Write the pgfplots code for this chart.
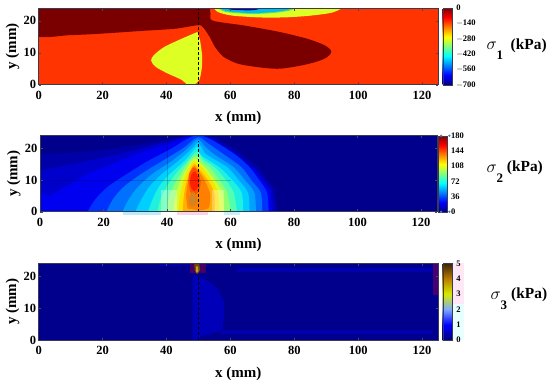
\documentclass[border=0pt]{standalone}
\usepackage{fontspec}
\setmainfont{Liberation Serif}
\usepackage{pgfplots}
\pgfplotsset{compat=1.18}
\definecolor{framec}{HTML}{3A3A50}
\pgfplotsset{
 common/.style={
  scale only axis, xmin=0, xmax=125, ymin=0, ymax=24,
  axis on top, clip=true,
  axis line style={framec, line width=0.6pt},
  xtick={0,20,40,60,80,100,120}, ytick={0,10,20},
  tick align=inside, major tick length=2.5pt,
  tick style={black!70, line width=0.4pt},
  /pgf/number format/assume math mode=true,
  tick label style={font=\bfseries\fontsize{12.5}{13}\selectfont},
  xlabel={\bfseries\fontsize{15}{15}\selectfont x (mm)},
  ylabel={\bfseries\fontsize{15}{15}\selectfont y (mm)},
  xlabel style={yshift=-5pt}, ylabel style={yshift=-2.5pt},
  xticklabel style={yshift=-3pt},
  yticklabel style={xshift=1pt},
  colorbar right,
 },
 extra/.style={scale only axis, xmin=0, xmax=125, ymin=0, ymax=24, hide axis, clip=false},
 cb/.style={
   at={(parent axis.south east)}, anchor=south west, xshift=-3.8pt,
   width=9.3pt, height=76.5pt, scale only axis,
   axis line style={framec, line width=0.3pt},
   tick align=outside, major tick length=1pt,
   ytick pos=right,
   yticklabel style={font=\bfseries\fontsize{8.5}{8.5}\selectfont, xshift=-0.3pt},
   /pgf/number format/assume math mode=true,
   xtick=\empty,
 },
 reg/.style={fill=#1, draw=none, forget plot, mark=none, line width=0pt},
 regc/.style args={#1/#2/#3}{fill={rgb,255:red,#1;green,#2;blue,#3}, draw=none, forget plot, mark=none, line width=0pt, smooth, tension=0.5},
 regs/.style args={#1/#2/#3}{fill={rgb,255:red,#1;green,#2;blue,#3}, draw=none, forget plot, mark=none, line width=0pt},
 dash/.style={black, line width=1.3pt, dash pattern=on 2.6pt off 2.4pt, forget plot, mark=none},
}
\definecolor{bgO}{RGB}{255,52,0}
\definecolor{nav}{RGB}{0,0,140}
\begin{document}
\begin{tikzpicture}[x=1pt,y=1pt]
\useasboundingbox (0,0) rectangle (550,384);
% ---------- sigma 1
\begin{axis}[common, at={(38.7pt,299.3pt)}, anchor=south west, width=399.3pt, height=76.7pt,
  colormap/jet, point meta min=-700, point meta max=0,
  colorbar style={cb, ytick={-700,-560,-420,-280,-140,0},
    yticklabels={$-$700,$-$560,$-$420,$-$280,$-$140,0}}]
\addplot[reg=bgO] coordinates {(0,0)(125,0)(125,24)(0,24)} --cycle;
\addplot[regc=122/0/0] coordinates {(53.6,24.5)(53.8,22)(54.6,20)(64.5,18.5)(75.4,16.5)(84,14.4)(89.6,12.3)(91.6,10.3)(89.6,8.2)(84,6.4)(75.4,5)(67.8,5.6)(62.3,6.6)(57.9,8.7)(55.2,11.8)(53.5,15)(51.4,18)(49.7,18.6)(42.6,17.5)(31.7,16.8)(20,16)(9.8,15.5)(-1,15.4)(-1,24.5)} --cycle;
\addplot[regc=222/255/36] coordinates {(49.7,16.5)(44.8,14.4)(39.3,11.8)(36,9.2)(35.2,7.5)(36.6,5.6)(40.4,3.5)(44.8,1.5)(46.4,0)(47.5,-0.5)(48.6,0)(50.3,1.5)(51.1,5.6)(51.1,9.7)(50.5,13.9)} --cycle;
\addplot[regc=222/255/36] coordinates {(54.4,24.5)(56,22.8)(60,21.7)(66,21.2)(71.4,21)(78,21.1)(85,21.6)(92,22.6)(96,24.5)} --cycle;
\addplot[regc=90/230/90] coordinates {(55.4,24.5)(58,22.9)(63,22.3)(68,22.15)(74,22.5)(79,23.3)(81,24.5)} --cycle;
\addplot[regc=0/190/235] coordinates {(55.7,24.5)(58.5,23.1)(63,22.6)(68,22.4)(74,22.8)(78,23.4)(79.7,24.5)} --cycle;
\addplot[regc=0/0/170] coordinates {(57.3,24.5)(60,23.5)(64,23.3)(68,23.4)(70.3,24.5)} --cycle;
\addplot[dash] coordinates {(50,0)(50,24)};
\end{axis}
% ---------- sigma 2
\begin{axis}[common, at={(40pt,172.3pt)}, anchor=south west, width=397pt, height=76pt,
  colormap/jet, point meta min=0, point meta max=180,
  colorbar style={cb, xshift=-3.5pt, height=76pt, width=8.7pt, ytick={0,36,72,108,144,180}}]
\addplot[reg=nav] coordinates {(0,0)(125,0)(125,24)(0,24)} --cycle;
\addplot[regs=0/0/168] coordinates {(0,18)(15,19)(30,21)(45,23.5)(50,24.3)(55,23.5)(62,19.5)(69,14)(74,7)(75,0)(0,0)} --cycle;
\addplot[regs=0/0/205] coordinates {(0,13)(15,16)(30,19.5)(45,23.5)(49,24.3)(54,23.2)(61,19)(68,13.5)(73,7)(74,0)(0,0)} --cycle;
\addplot[regs=0/0/240] coordinates {(0,6)(3,5)(15,12)(30,18)(45,23)(49,24.3)(54,23)(61,18.7)(67.5,13.2)(72.5,6.8)(73,0)(0,0)} --cycle;
\addplot[regc=0/50/255] coordinates {(15,-1)(15,0)(17.5,4)(21.5,8)(27.5,12)(34,16)(41.5,20)(46,22.8)(49.7,24.2)(54,22.7)(61.5,18)(66,14)(69,10)(71.5,6)(72,0)(72,-1)} --cycle;
\addplot[regc=0/112/255] coordinates {(21,-1)(21,0)(23,4)(26.5,8)(32,12)(38.5,16)(45,20)(49.7,23.5)(53,21.5)(58,18)(63.5,14)(66.5,10)(69.5,6)(70,0)(70,-1)} --cycle;
\addplot[regc=0/160/255] coordinates {(26,-1)(26,0)(28,4)(31,8)(35.5,12)(41.5,16)(46.5,20)(49.7,22.8)(52,20.5)(55,18)(61,14)(64.5,10)(67.5,6)(68,0)(68,-1)} --cycle;
\addplot[regc=0/208/255] coordinates {(30,-1)(30,0)(32,4)(34.5,8)(38.5,12)(43.5,16)(48,20)(49.7,21.8)(51,20)(52.5,18)(59,14)(62.5,10)(65.5,6)(66,0)(66,-1)} --cycle;
\addplot[regc=32/240/224] coordinates {(34,-1)(34,0)(35.5,4)(37.5,8)(41,12)(45.5,16)(49.5,20.5)(50.5,18)(56.5,14)(60.5,10)(63.5,6)(64,0)(64,-1)} --cycle;
\addplot[regc=80/255/176] coordinates {(37,-1)(37,0)(38,4)(40,8)(42.8,12)(46.5,16)(49.5,19)(51.5,16.5)(55,14)(58.5,10)(61,6)(62,0)(62,-1)} --cycle;
\addplot[regc=144/255/112] coordinates {(40,-1)(40,0)(40.5,4)(42,8)(44.3,12)(47,16)(49.3,17.8)(51.5,15.5)(53.5,14)(56.5,10)(59,6)(60,0)(60,-1)} --cycle;
\addplot[regc=208/255/48] coordinates {(42,-1)(42,0)(42.5,4)(43.5,8)(45.3,12)(47.8,16)(49,16.8)(51,14.8)(52,14)(55,10)(57.5,6)(58,0)(58,-1)} --cycle;
\addplot[regc=255/224/0] coordinates {(43.5,-1)(43.5,0)(44,4)(44.8,8)(46,12)(48,15.5)(48.8,15.8)(51,14)(54,10)(56,6)(56.5,0)(56.5,-1)} --cycle;
\addplot[regc=255/176/0] coordinates {(45,-1)(45,0)(45.2,4)(45.8,8)(47,12)(48.5,15)(50,13.5)(52.8,10)(54.8,6)(55,0)(55,-1)} --cycle;
\addplot[regc=255/128/0] coordinates {(46.5,1)(46,5)(46.5,9)(47.2,12.5)(48.5,14.3)(50,12.8)(51.8,10)(53.5,6)(53.5,3)(53,1)(50,0.4)} --cycle;
\addplot[regc=255/80/0] coordinates {(46.8,9)(47,12)(48.5,14)(50,12)(50.6,9)(50,6.5)(48.5,5)(47.3,6.5)} --cycle;
\addplot[regc=255/32/0] coordinates {(47.2,9)(47.6,11.5)(48.7,12.7)(49.8,11)(50,9)(49.5,7.3)(48.5,6.5)(47.6,7.5)} --cycle;
\addplot[regc=214/130/32] coordinates {(46.8,3.5)(47.4,5.5)(48.3,6.2)(49.3,5)(49.6,3.5)(49,2)(48,1.6)(47.1,2.2)} --cycle;
% pale boxes beside the peak
\addplot[reg=white, fill opacity=0.3] coordinates {(38,0)(43,0)(43,6.7)(38,6.7)} --cycle;
\addplot[reg=white, fill opacity=0.3] coordinates {(54,0)(58,0)(58,6.7)(54,6.7)} --cycle;
\addplot[black, line width=0.4pt, forget plot, mark=none, opacity=.2] coordinates {(0,10)(60,10)};
\addplot[black, line width=0.4pt, forget plot, mark=none, opacity=.2] coordinates {(40,0)(40,24)};
\addplot[dash] coordinates {(50,0)(50,22.3)};
\end{axis}
\begin{axis}[extra, at={(40pt,172.3pt)}, anchor=south west, width=397pt, height=76pt]
\addplot[reg={cyan!25}] coordinates {(26,0)(38,0)(38,-1)(26,-1)} --cycle;
\addplot[reg={magenta!18}] coordinates {(43,0)(53,0)(53,-1)(43,-1)} --cycle;
\addplot[reg={cyan!20}] coordinates {(58,0)(63,0)(63,-1)(58,-1)} --cycle;
\addplot[only marks, mark=*, mark size=0.9pt, color={rgb,255:red,70;green,130;blue,170}, forget plot] coordinates {(126.3,24)(128.9,24)(126.3,0)(128.9,0)};
\end{axis}
% ---------- sigma 3
\begin{axis}[extra, at={(38.7pt,44pt)}, anchor=south west, width=399.3pt, height=76.7pt]
\addplot[regs=255/232/245] coordinates {(129.4,11.4)(133,11.4)(133,24)(129.4,24)} --cycle;
\addplot[regs=232/255/255] coordinates {(129.4,0)(133,0)(133,11.4)(129.4,11.4)} --cycle;
\end{axis}
\begin{axis}[common, at={(38.7pt,44pt)}, anchor=south west, width=399.3pt, height=76.7pt,
  colormap={sigthree}{rgb255(0cm)=(0,0,125); rgb255(1cm)=(0,0,255); rgb255(2cm)=(125,170,255); rgb255(3cm)=(215,235,0); rgb255(4cm)=(185,125,0); rgb255(5cm)=(60,35,10)},
  point meta min=0, point meta max=5,
  colorbar style={cb, ytick={0,1,2,3,4,5}}]
\addplot[reg=nav] coordinates {(0,0)(125,0)(125,24)(0,24)} --cycle;
\addplot[regs=0/0/185] coordinates {(48.2,0)(50.5,0)(50.5,1)(57.5,3)(58,8)(58,12)(56,16)(53,18.5)(50,20)(48.2,20)} --cycle;
\addplot[regs=0/0/175] coordinates {(57,1.8)(123,1.8)(123,3)(57,3)} --cycle;
\addplot[regs=0/0/175] coordinates {(62,21.4)(123,21.4)(123,22.5)(62,22.5)} --cycle;
\addplot[regs=0/0/170] coordinates {(38,23)(48,23)(48,23.8)(38,23.8)} --cycle;
\addplot[regs=70/0/115] coordinates {(123.3,14)(125,14)(125,24)(123.3,24)} --cycle;
\addplot[regs=70/0/100] coordinates {(47.5,21)(52.5,21)(52.5,24)(47.5,24)} --cycle;
\addplot[regs=110/70/10] coordinates {(48.7,24)(50.2,24)(50.6,22)(49.6,20.5)(48.8,22)} --cycle;
\addplot[regs=190/160/40] coordinates {(49.3,23)(49.9,23)(50,21.5)(49.5,21)(49.2,21.5)} --cycle;
\addplot[dash] coordinates {(50,0)(50,20)};
\end{axis}
% ---------- titles
\newcommand{\Sg}[5]{%
 \node[inner sep=0pt, anchor=west] at (#1,{384-#2}) {\fontsize{17}{17}\selectfont$\sigma$};
 \node[inner sep=0pt, anchor=west] at ({#1+10},{384-#2-9}) {\bfseries\fontsize{13}{13}\selectfont #3};
 \node[inner sep=0pt, anchor=west] at (#4,{384-#5}) {\bfseries\fontsize{15.4}{15.4}\selectfont (kPa)};}
\Sg{486.5}{46}{1}{510.5}{45.5}
\Sg{486.5}{169}{2}{506.7}{167.5}
\Sg{490.5}{296}{3}{511}{295}
\end{tikzpicture}
\end{document}
